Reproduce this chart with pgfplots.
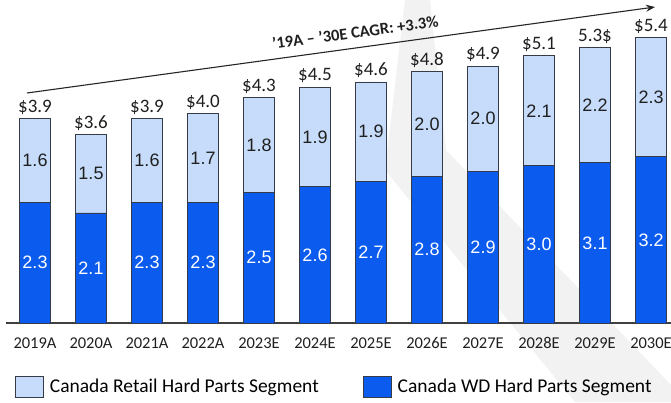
\documentclass[border=0pt]{standalone}
\usepackage{pgfplots}
\pgfplotsset{compat=1.18}
\usepackage{pgfplotstable}
\usepackage{fontspec}
\setmainfont{Carlito}
\newfontfamily\arialf{Liberation Sans}
\usetikzlibrary{arrows.meta}
\definecolor{lightb}{HTML}{C6DCFA}
\definecolor{darkb}{HTML}{0B5BEF}
\definecolor{edgec}{HTML}{353C48}
\definecolor{axisc}{HTML}{404040}
\definecolor{wm}{HTML}{F2F2F2}

\pgfplotstableread{
x total dark
0 3.9 2.3
1 3.6 2.1
2 3.9 2.3
3 4.0 2.3
4 4.3 2.5
5 4.5 2.6
6 4.6 2.7
7 4.8 2.8
8 4.9 2.9
9 5.1 3.0
10 5.25 3.06
11 5.44 3.17
}\bars

\pgfplotstableread{
x y lab
0 3.10 1.6
1 2.85 1.5
2 3.10 1.6
3 3.15 1.7
4 3.40 1.8
5 3.55 1.9
6 3.65 1.9
7 3.80 2.0
8 3.90 2.0
9 4.05 2.1
10 4.16 2.2
11 4.31 2.3
}\retlab

\pgfplotstableread{
x y lab
0 1.15 2.3
1 1.05 2.1
2 1.15 2.3
3 1.15 2.3
4 1.25 2.5
5 1.30 2.6
6 1.35 2.7
7 1.40 2.8
8 1.45 2.9
9 1.50 3.0
10 1.53 3.1
11 1.58 3.2
}\wdlab

\pgfplotstableread{
x y lab
0 3.9 {\$3.9}
1 3.6 {\$3.6}
2 3.9 {\$3.9}
3 4.0 {\$4.0}
4 4.3 {\$4.3}
5 4.5 {\$4.5}
6 4.6 {\$4.6}
7 4.8 {\$4.8}
8 4.9 {\$4.9}
9 5.1 {\$5.1}
10 5.25 {5.3\$}
11 5.44 {\$5.4}
}\totlab

\begin{document}
\begin{tikzpicture}
\useasboundingbox (0,0) rectangle (671pt,402pt);
\fill[wm] (405pt,402pt) -- (430pt,402pt) -- (446pt,252pt) -- (671pt,17pt) -- (671pt,0pt) -- (575pt,0pt) -- (385pt,232pt) -- cycle;
\begin{axis}[
  at={(35pt,79pt)}, anchor=origin,
  x=56pt, y=52.4pt,
  xmin=-0.518, xmax=11.6, ymin=0, ymax=6,
  hide y axis,
  axis x line*=bottom,
  x axis line style={-, draw=axisc, line width=1.3pt},
  xtick={0,...,11},
  xticklabels={2019A,2020A,2021A,2022A,2023E,2024E,2025E,2026E,2027E,2028E,2029E,2030E},
  xtick style={draw=none},
  xticklabel style={font=\fontsize{16.5}{18}\selectfont, text=black!88, anchor=center, yshift=-20pt},
  legend style={at={(axis description cs:0.0133,-0.202)}, anchor=west, draw=none, fill=none,
    legend columns=2, font=\fontsize{19.5}{22}\selectfont, inner sep=0pt, outer sep=0pt,
    /tikz/every odd column/.append style={column sep=4pt},
    /tikz/every even column/.append style={column sep=42pt}},
  legend cell align=left,
  legend image code/.code={\draw[#1, line width=0.9pt] (0pt,-10.5pt) rectangle (28pt,10.5pt);},
  every node near coord/.append style={inner sep=0pt},
  labplot/.style={forget plot, only marks, mark=*, mark size=0pt,
    scatter/use mapped color={draw=none,fill=none},
    mark options={draw=none,fill=none},
    point meta=explicit symbolic, nodes near coords},
]
\addplot[ybar, bar width=31pt, bar shift=0pt, fill=lightb, draw=edgec, line width=0.9pt] table[x=x,y=total]{\bars};
\addlegendentry{Canada Retail Hard Parts Segment}
\addplot[ybar, bar width=31pt, bar shift=0pt, fill=darkb, draw=edgec, line width=0.9pt] table[x=x,y=dark]{\bars};
\addlegendentry{Canada WD Hard Parts Segment}

\addplot[labplot, every node near coord/.append style={anchor=center, font=\arialf\fontsize{18}{20}\selectfont, text=black!88}]
  table[x=x,y=y,meta=lab]{\retlab};
\addplot[labplot, every node near coord/.append style={anchor=center, font=\arialf\fontsize{18}{20}\selectfont, text=white}]
  table[x=x,y=y,meta=lab]{\wdlab};
\addplot[labplot, every node near coord/.append style={anchor=south, yshift=4pt, font=\fontsize{19}{21}\selectfont, text=black!88}]
  table[x=x,y=y,meta=lab]{\totlab};
\end{axis}
\draw[-{Stealth[length=9pt,width=7pt]}, line width=1.1pt, black!85] (27pt,309pt) -- (655pt,395pt);
\node[rotate=7.82, anchor=base, inner sep=0pt, font=\bfseries\fontsize{16.5}{18}\selectfont, text=black!88] at (356pt,364pt) {’19A – ’30E CAGR: +3.3\%};
\end{tikzpicture}
\end{document}
